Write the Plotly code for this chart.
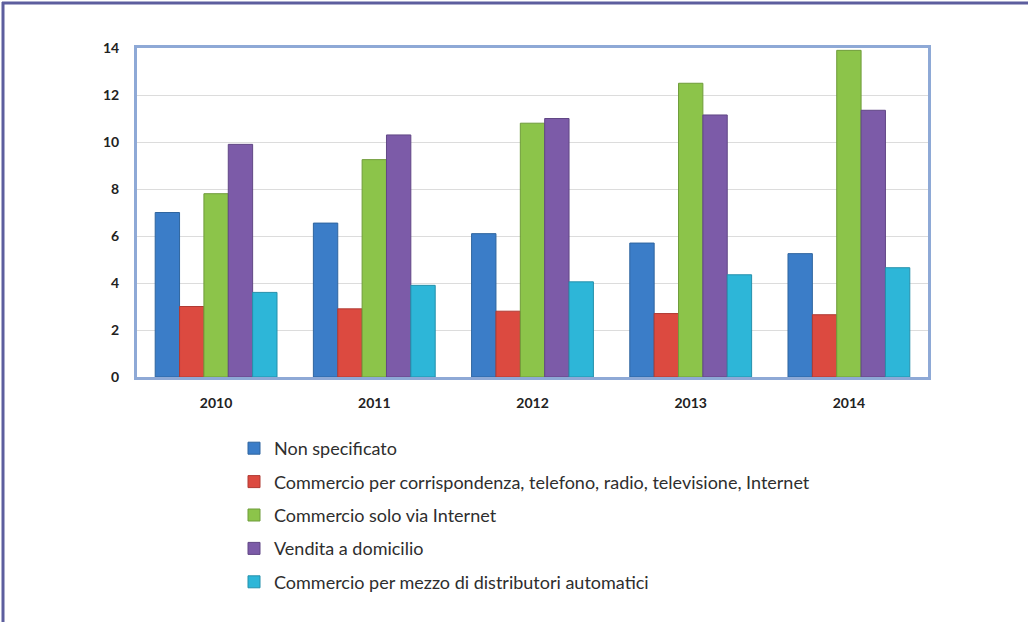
import plotly.graph_objects as go

# Years on the category axis
years = ["2010", "2011", "2012", "2013", "2014"]

# Series values, one list per sales channel
non_specificato = [7.0, 6.55, 6.1, 5.7, 5.25]
corrispondenza = [3.0, 2.9, 2.8, 2.7, 2.65]
solo_internet = [7.8, 9.25, 10.8, 12.5, 13.9]
domicilio = [9.9, 10.3, 11.0, 11.15, 11.35]
distributori = [3.6, 3.9, 4.05, 4.35, 4.65]

series_names = [
    "Non specificato",
    "Commercio per corrispondenza, telefono, radio, televisione, Internet",
    "Commercio solo via Internet",
    "Vendita a domicilio",
    "Commercio per mezzo di distributori automatici",
]
series_values = [non_specificato, corrispondenza, solo_internet, domicilio, distributori]
series_colors = ["#3b7dc8", "#dc4a40", "#8cc44a", "#7c5ba8", "#2db6d8"]
series_edges = ["#2f659f", "#b03a33", "#6f9c3a", "#614785", "#2590ab"]

y_ticks = [0, 2, 4, 6, 8, 10, 12, 14]

W, H = 1028, 622
L, R, T, B = 137, 100, 48, 245

fig = go.Figure()
for i, (name, vals, col, edge) in enumerate(zip(series_names, series_values, series_colors, series_edges)):
    fig.add_trace(go.Bar(
        x=years, y=vals, name=name, legendgroup=f"g{i}",
        marker=dict(color=col, line=dict(color=edge, width=1)),
    ))

plot_w = W - L - R
plot_h = H - T - B
frame_col = "#5d5e9e"
# outer frame: top and left edges of the page
fig.add_shape(type="line", xref="paper", yref="paper",
              x0=(2 - L) / plot_w, x1=(W - L) / plot_w,
              y0=1 + (T - 3) / plot_h, y1=1 + (T - 3) / plot_h,
              line=dict(color=frame_col, width=3))
fig.add_shape(type="line", xref="paper", yref="paper",
              x0=(3 - L) / plot_w, x1=(3 - L) / plot_w,
              y0=1 + (T - 2) / plot_h, y1=-(B) / plot_h,
              line=dict(color=frame_col, width=3))

fig.update_layout(
    width=W, height=H,
    margin=dict(l=L, r=R, t=T, b=B, autoexpand=False),
    paper_bgcolor="white", plot_bgcolor="white",
    barmode="group", bargap=0.23, bargroupgap=0,
    font=dict(family="Lato, Arial, sans-serif", color="#333333"),
    showlegend=True,
    legend=dict(
        xref="container", yref="container",
        x=234 / W, y=1 - 430 / H, xanchor="left", yanchor="top",
        orientation="v", traceorder="grouped", tracegroupgap=7,
        font=dict(size=18, color="#2e2e2e"),
        bgcolor="rgba(0,0,0,0)",
    ),
    xaxis=dict(
        showline=True, linecolor="#8ea9d6", linewidth=3, mirror=True,
        ticks="", tickfont=dict(size=14, color="#222222", weight="bold"),
        tickangle=0, ticklabelstandoff=11,
    ),
    yaxis=dict(
        range=[0, 14], tickvals=y_ticks,
        showline=True, linecolor="#8ea9d6", linewidth=3, mirror=True,
        showgrid=True, gridcolor="#dcdcdc", gridwidth=1,
        zeroline=False, ticks="",
        tickfont=dict(size=14, color="#222222", weight="bold"),
        ticklabelstandoff=12,
    ),
)

fig.write_html("out.html")
